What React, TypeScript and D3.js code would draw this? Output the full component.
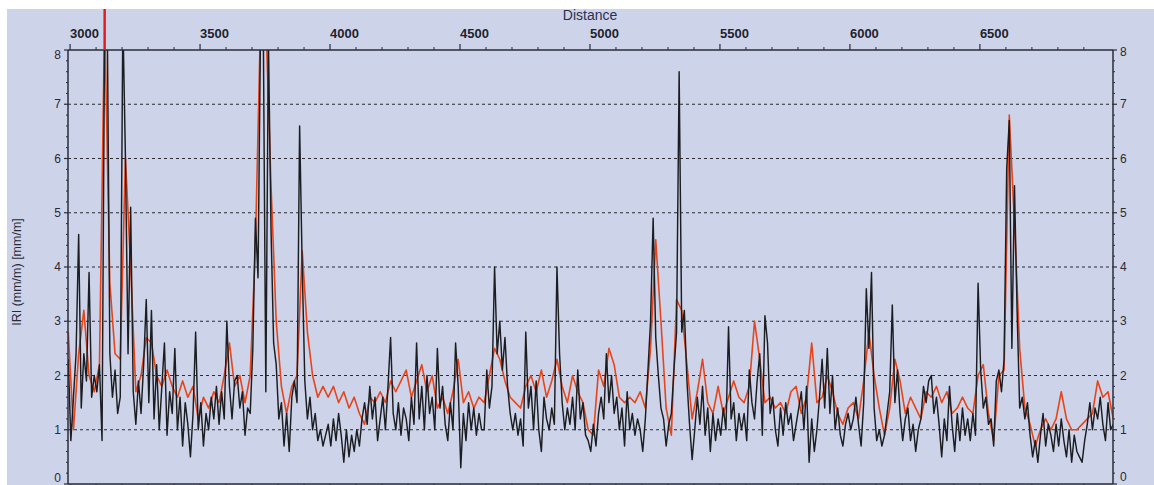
import React from "react";
import * as d3 from "d3";

// ---- data ----
const RAW_START = 2993;
const RAW_STEP = 10;
const rawIRI: number[] = [
  2.3,0.8,1.6,2.4,4.6,1.4,2.4,1.9,3.9,1.6,
  2.0,1.7,2.2,0.8,8.6,8.6,2.4,1.6,2.1,1.3,
  1.6,8.6,6.0,2.4,5.1,1.7,1.1,1.9,1.3,2.2,
  3.4,1.5,3.2,1.2,2.2,1.0,1.8,2.6,0.9,1.7,
  1.3,2.5,1.0,1.6,0.7,1.5,1.1,0.5,1.3,2.8,
  1.0,1.5,0.7,1.3,1.0,1.6,1.2,1.8,1.1,1.7,
  1.2,3.0,1.8,1.2,1.9,2.0,1.4,1.7,0.9,1.4,
  1.3,2.5,4.9,3.8,8.6,8.6,1.7,8.2,4.7,2.6,
  2.2,1.2,1.5,0.7,1.3,0.6,1.6,1.9,1.5,6.6,
  4.0,1.9,1.2,1.6,1.0,1.3,0.8,1.0,0.7,0.9,
  1.1,0.7,1.2,0.8,1.3,0.9,0.4,1.0,0.5,0.9,
  0.6,1.0,0.7,1.2,1.5,1.1,1.8,1.2,1.6,0.8,
  1.2,1.6,1.0,1.8,2.7,1.3,1.0,1.5,0.9,1.4,
  1.2,0.8,1.6,1.1,2.6,1.2,1.8,1.0,2.0,1.3,
  1.6,1.0,2.5,1.4,1.8,1.1,0.8,1.5,1.0,2.6,
  1.8,0.3,1.3,0.8,1.5,1.0,1.4,0.9,1.3,1.0,
  1.0,2.1,1.4,1.8,4.0,2.4,3.0,2.1,2.7,1.8,
  1.3,1.0,1.3,0.9,1.2,0.7,2.8,1.4,1.8,1.0,
  1.9,1.0,0.6,1.6,1.2,1.0,1.4,1.1,4.0,2.4,
  1.5,1.0,1.4,1.1,1.6,1.0,2.1,1.2,1.5,0.9,
  0.8,0.6,1.1,0.7,1.3,1.6,1.2,2.4,1.5,2.0,
  1.3,1.6,1.0,1.4,0.7,1.7,1.0,1.3,0.9,1.2,
  1.0,0.6,1.2,2.1,3.0,4.9,2.7,2.0,1.4,1.2,
  0.7,1.1,1.3,2.1,2.8,7.6,2.8,3.2,1.9,1.1,
  0.45,1.0,1.6,1.1,1.8,0.9,1.4,0.6,1.3,0.8,
  1.2,0.9,1.4,1.0,2.9,1.2,1.5,0.8,1.3,1.0,
  1.3,0.8,2.1,1.5,1.2,1.9,2.4,0.9,3.1,2.6,
  1.3,1.6,1.0,0.7,1.4,0.9,1.5,1.1,1.3,0.8,
  1.1,1.4,1.7,1.0,1.8,0.4,1.2,0.6,1.0,1.6,
  2.3,1.4,2.5,1.3,2.0,1.0,1.4,0.9,0.7,1.1,
  1.3,1.0,1.2,1.6,1.1,0.7,1.5,3.6,2.5,3.9,
  1.4,0.8,1.0,0.7,0.9,1.3,1.7,3.3,1.5,2.1,
  1.3,0.8,1.2,1.4,0.8,1.1,0.6,1.0,1.2,1.8,
  1.5,1.9,2.0,1.3,1.6,1.1,0.5,1.2,0.8,1.8,
  1.1,0.6,1.3,0.8,1.4,0.9,1.2,0.8,1.3,0.9,
  3.7,2.1,1.4,1.6,1.1,1.2,0.7,1.9,2.1,1.7,
  2.3,5.8,6.7,2.5,5.5,3.2,1.4,1.6,1.2,1.5,
  0.9,0.5,0.8,0.4,0.9,1.3,0.7,1.1,0.9,0.6,
  1.1,0.7,1.2,0.8,0.5,1.0,0.4,0.9,0.6,0.5,
  0.4,0.8,1.1,1.5,1.0,1.4,1.2,1.6,1.1,0.8,
  1.5,1.0,1.1,
];

const AVG_START = 2993;
const AVG_STEP = 20;
const avgIRI: number[] = [
  2.8,1.0,2.4,3.2,2.0,
  1.7,2.2,8.6,3.7,2.4,
  2.3,6.0,4.0,1.7,2.0,
  2.7,2.6,2.0,1.8,2.1,
  1.8,1.6,1.9,1.6,1.8,
  1.2,1.6,1.4,1.7,1.5,
  2.0,2.6,1.8,2.0,1.5,
  2.0,4.4,8.6,8.6,5.5,
  3.0,1.8,1.3,1.8,2.0,
  4.3,2.8,2.0,1.6,1.8,
  1.6,1.8,1.5,1.7,1.4,
  1.6,1.3,1.1,1.6,1.5,
  1.7,1.5,1.9,1.7,1.9,
  2.1,1.6,1.9,2.2,1.7,
  2.0,1.4,1.6,1.3,1.7,
  2.3,1.5,1.7,1.4,1.6,
  1.5,2.0,2.5,2.3,1.9,
  1.6,1.5,1.4,1.8,2.0,
  1.7,2.1,1.6,1.9,2.3,
  1.8,1.5,2.0,1.7,1.5,
  1.0,0.9,2.1,1.8,2.5,
  2.2,1.6,1.5,1.6,1.5,
  1.7,1.4,2.5,4.5,3.0,
  1.4,0.9,3.4,3.2,2.2,
  1.2,1.7,2.3,1.5,1.3,
  1.8,1.3,1.6,1.9,1.6,
  1.5,1.8,3.0,2.3,1.5,
  1.6,1.4,1.5,1.3,1.7,
  1.8,1.3,1.6,2.6,1.5,
  1.6,2.0,1.7,1.3,1.1,
  1.4,1.5,1.2,1.9,2.8,
  2.0,1.4,0.9,1.4,2.3,
  1.9,1.3,1.6,1.4,1.2,
  1.7,1.6,1.8,1.5,1.7,
  1.3,1.4,1.6,1.4,1.3,
  2.0,2.2,1.3,0.8,2.0,
  2.1,6.8,4.8,2.5,1.4,
  1.1,0.7,1.0,1.2,1.0,
  1.2,1.7,1.2,1.0,1.0,
  1.1,1.2,1.3,1.9,1.6,
  1.7,1.2,
];

const xMajorTicks = [3000, 3500, 4000, 4500, 5000, 5500, 6000, 6500];
const yTicks = [0, 1, 2, 3, 4, 5, 6, 7, 8];
const gridValues = [1, 2, 3, 4, 5, 6, 7];
const markerDistance = 3133;

const W = 1154;
const H = 485;
const PL = 68, PR = 1113, PT = 50, PB = 484;

export default function App() {
  const x = d3.scaleLinear().domain([2992, 7012]).range([PL, PR]);
  const y = d3.scaleLinear().domain([0, 8]).range([PB, PT]);

  const rawPts: [number, number][] = rawIRI.map((v, i) => [RAW_START + i * RAW_STEP, v]);
  const avgPts: [number, number][] = avgIRI.map((v, i) => [AVG_START + i * AVG_STEP, v]);
  const line = d3.line<[number, number]>().x((d) => x(d[0])).y((d) => y(d[1]));

  const minorX = d3.range(3000, 7001, 100).filter((d) => d % 500 !== 0);
  const minorY = d3.range(0, 8.01, 0.2).map((v) => Math.round(v * 10) / 10).filter((v) => Math.abs(v - Math.round(v)) > 0.01);
  const font = "Arial, 'Liberation Sans', sans-serif";
  const axisColor = "#2a2d3a";

  return (
    <svg width={W} height={H} style={{ position: "absolute", left: 0, top: 0, display: "block" }} fontFamily={font}>
      <defs>
        <clipPath id="plotclip">
          <rect x={PL} y={PT} width={PR - PL} height={PB - PT} />
        </clipPath>
      </defs>
      <rect x={0} y={0} width={W} height={H} fill="#ffffff" />
      <rect x={7} y={9} width={W - 7} height={H - 9} fill="#cdd4ea" />

      {/* axis title */}
      <text x={590} y={19.5} textAnchor="middle" fontSize={14} fill="#2a3050">Distance</text>
      <rect x={0} y={0} width={W} height={9} fill="#ffffff" />

      {/* gridlines */}
      {gridValues.map((v) => (
        <line key={"g" + v} x1={PL} x2={PR} y1={y(v)} y2={y(v)} stroke="#2b2b30" strokeWidth={1.2} strokeDasharray="3,3" />
      ))}

      {/* series */}
      <g clipPath="url(#plotclip)">
        <path d={line(avgPts) || ""} fill="none" stroke="#e6451c" strokeWidth={1.6} strokeLinejoin="round" />
        <path d={line(rawPts) || ""} fill="none" stroke="#1b1d20" strokeWidth={1.45} strokeLinejoin="round" />
      </g>

      {/* frame */}
      <line x1={PL} x2={PR} y1={PT} y2={PT} stroke={axisColor} strokeWidth={1.5} />
      <line x1={PL} x2={PR} y1={PB} y2={PB} stroke={axisColor} strokeWidth={1.5} />
      <line x1={PL} x2={PL} y1={PT} y2={PB} stroke={axisColor} strokeWidth={1.5} />
      <line x1={PR} x2={PR} y1={PT} y2={PB} stroke={axisColor} strokeWidth={1.5} />

      {/* top axis ticks */}
      {xMajorTicks.map((d) => (
        <g key={"xt" + d}>
          <line x1={x(d)} x2={x(d)} y1={PT} y2={PT - 6} stroke={axisColor} strokeWidth={1.2} />
          <text x={x(d)} y={38} fontSize={13} fontWeight="bold" fill="#22222c">{d}</text>
        </g>
      ))}
      {minorX.map((d) => (
        <line key={"xm" + d} x1={x(d)} x2={x(d)} y1={PT} y2={PT - 3} stroke={axisColor} strokeWidth={1} />
      ))}
      {minorX.concat(xMajorTicks).map((d) => (
        <line key={"xb" + d} x1={x(d)} x2={x(d)} y1={PB} y2={PB + 3} stroke={axisColor} strokeWidth={1} />
      ))}

      {/* y ticks */}
      {yTicks.map((v) => {
        const dyL = v === 8 ? 5 : v === 0 ? -6 : 0;
        const dyR = v === 8 ? 2 : v === 0 ? -7 : 0;
        return (
          <g key={"yt" + v}>
            <line x1={PL - 4} x2={PL} y1={y(v)} y2={y(v)} stroke={axisColor} strokeWidth={1.2} />
            <line x1={PR} x2={PR + 4} y1={y(v)} y2={y(v)} stroke={axisColor} strokeWidth={1.2} />
            <text x={PL - 7} y={y(v) + dyL} dy="0.35em" textAnchor="end" fontSize={12} fill="#2a2a35">{v}</text>
            <text x={PR + 7} y={y(v) + dyR} dy="0.35em" textAnchor="start" fontSize={12} fill="#2a2a35">{v}</text>
          </g>
        );
      })}
      {minorY.map((v) => (
        <g key={"ym" + v}>
          <line x1={PL - 2} x2={PL} y1={y(v)} y2={y(v)} stroke={axisColor} strokeWidth={1} />
          <line x1={PR} x2={PR + 2} y1={y(v)} y2={y(v)} stroke={axisColor} strokeWidth={1} />
        </g>
      ))}

      {/* y axis title */}
      <text transform={`translate(17,272) rotate(-90)`} textAnchor="middle" dy="0.35em" fontSize={12.5} fill="#2a2a35">IRI (mm/m) [mm/m]</text>

      {/* position marker */}
      <line x1={x(markerDistance)} x2={x(markerDistance)} y1={9} y2={PT} stroke="#e01e1e" strokeWidth={2.5} />
    </svg>
  );
}
